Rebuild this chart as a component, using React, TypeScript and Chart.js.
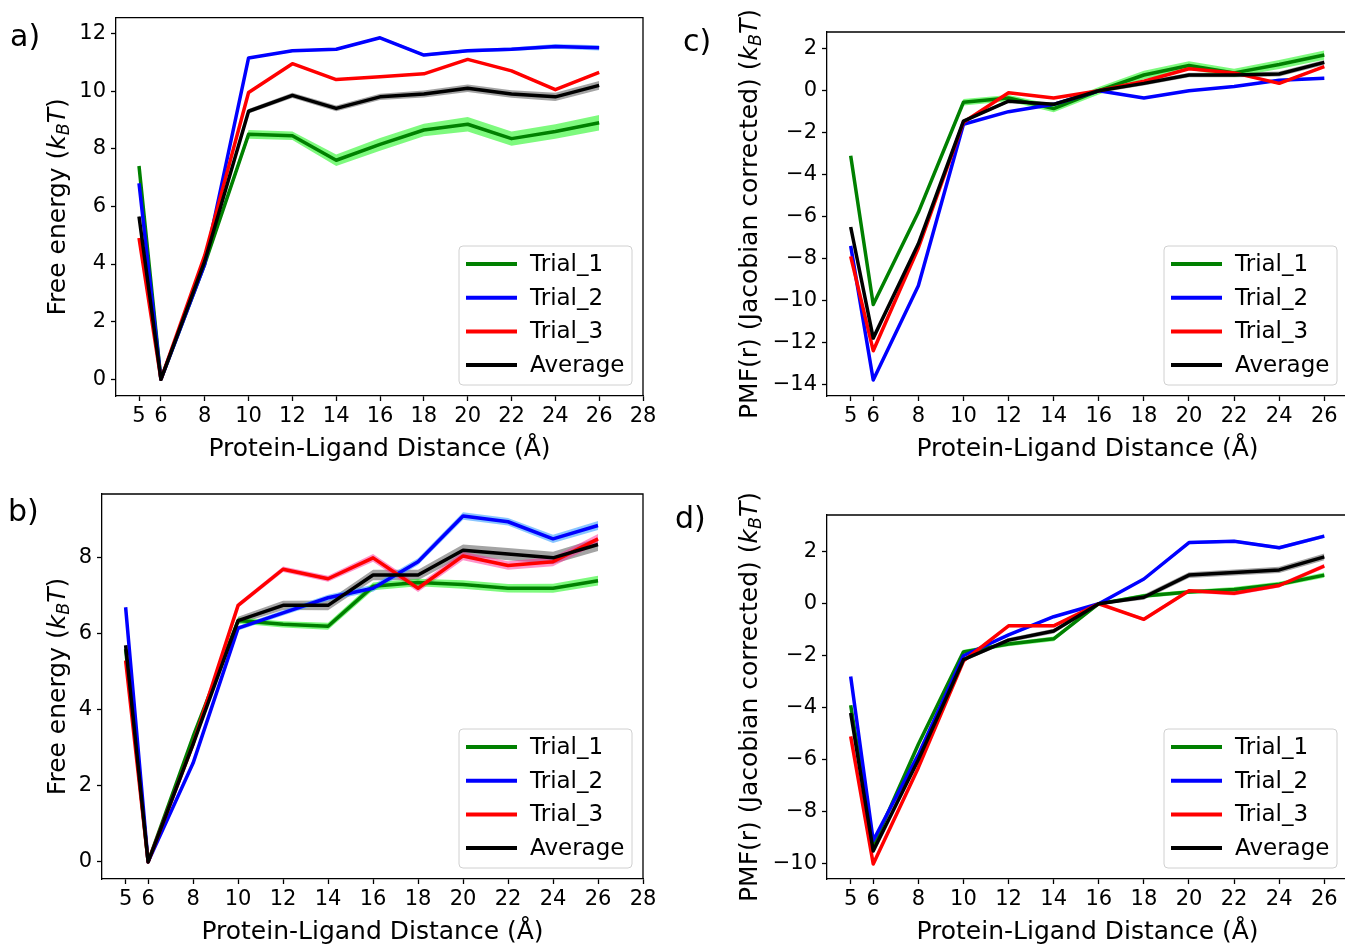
import React, { useEffect, useRef } from 'react';
import { Chart, registerables } from 'chart.js';
Chart.register(...registerables);

const FONT = '"DejaVu Sans"';
const X = [5, 6, 8, 10, 12, 14, 16, 18, 20, 22, 24, 26];
const X_TICKS_AB = [5, 6, 8, 10, 12, 14, 16, 18, 20, 22, 24, 26, 28];
const X_TICKS_CD = [5, 6, 8, 10, 12, 14, 16, 18, 20, 22, 24, 26];
const Y_TICKS_A = [0, 2, 4, 6, 8, 10, 12];
const Y_TICKS_B = [0, 2, 4, 6, 8];
const Y_TICKS_C = [-14, -12, -10, -8, -6, -4, -2, 0, 2];
const Y_TICKS_D = [-10, -8, -6, -4, -2, 0, 2];
const SERIES_NAMES = ['Trial_1', 'Trial_2', 'Trial_3', 'Average'];
const LINE_COLORS = ['#008000', '#0000ff', '#ff0000', '#000000'];
const BAND_COLORS = ['rgba(20,245,20,0.55)', 'rgba(60,160,255,0.6)', 'rgba(255,40,150,0.5)', 'rgba(90,90,90,0.55)'];

// Panel a
const A_T1 = [7.4, 0, 4.0, 8.5, 8.45, 7.6, 8.15, 8.65, 8.85, 8.35, 8.6, 8.9];
const A_T2 = [6.8, 0, 4.0, 11.15, 11.4, 11.45, 11.85, 11.25, 11.4, 11.45, 11.55, 11.5];
const A_T3 = [4.9, 0, 4.3, 9.95, 10.95, 10.4, 10.5, 10.6, 11.1, 10.7, 10.05, 10.65];
const A_AVG = [5.65, 0, 4.1, 9.3, 9.85, 9.4, 9.8, 9.9, 10.1, 9.9, 9.8, 10.2];
const A_T1_ERR = [0.05, 0.02, 0.1, 0.15, 0.15, 0.2, 0.22, 0.22, 0.25, 0.25, 0.25, 0.27];
const A_T2_ERR = [0.02, 0.01, 0.03, 0.03, 0.04, 0.04, 0.04, 0.05, 0.06, 0.06, 0.08, 0.09];
const A_T3_ERR = [0.02, 0.01, 0.02, 0.03, 0.03, 0.03, 0.03, 0.03, 0.04, 0.04, 0.04, 0.04];
const A_AVG_ERR = [0.04, 0.02, 0.06, 0.08, 0.09, 0.1, 0.11, 0.12, 0.13, 0.13, 0.14, 0.15];

// Panel b
const B_T1 = [5.6, 0, 3.3, 6.35, 6.25, 6.2, 7.25, 7.35, 7.3, 7.2, 7.2, 7.4];
const B_T2 = [6.7, 0, 2.6, 6.15, 6.55, 6.95, 7.2, 7.9, 9.1, 8.95, 8.5, 8.85];
const B_T3 = [5.3, 0, 3.1, 6.75, 7.7, 7.45, 8.0, 7.2, 8.05, 7.8, 7.9, 8.5];
const B_AVG = [5.7, 0, 3.1, 6.35, 6.75, 6.75, 7.55, 7.55, 8.2, 8.1, 8.0, 8.35];
const B_T1_ERR = [0.03, 0.01, 0.05, 0.08, 0.08, 0.09, 0.1, 0.1, 0.11, 0.11, 0.12, 0.13];
const B_T2_ERR = [0.03, 0.01, 0.04, 0.06, 0.07, 0.08, 0.09, 0.09, 0.1, 0.1, 0.11, 0.12];
const B_T3_ERR = [0.03, 0.01, 0.04, 0.06, 0.07, 0.08, 0.1, 0.1, 0.11, 0.11, 0.12, 0.13];
const B_AVG_ERR = [0.04, 0.02, 0.06, 0.1, 0.12, 0.13, 0.14, 0.14, 0.15, 0.16, 0.16, 0.17];

// Panel c
const C_T1 = [-3.1, -10.2, -5.8, -0.55, -0.35, -0.85, 0, 0.75, 1.2, 0.85, 1.25, 1.7];
const C_T2 = [-7.4, -13.8, -9.3, -1.6, -1.0, -0.65, 0, -0.35, 0, 0.2, 0.5, 0.6];
const C_T3 = [-7.9, -12.4, -7.5, -1.5, -0.1, -0.35, 0, 0.45, 1.05, 0.85, 0.35, 1.15];
const C_AVG = [-6.5, -11.8, -7.3, -1.45, -0.5, -0.65, 0, 0.35, 0.75, 0.75, 0.8, 1.35];
const C_T1_ERR = [0.05, 0.05, 0.1, 0.15, 0.15, 0.18, 0.18, 0.2, 0.2, 0.2, 0.22, 0.22];
const C_T2_ERR = [0.03, 0.03, 0.04, 0.04, 0.04, 0.04, 0.04, 0.05, 0.05, 0.05, 0.06, 0.06];
const C_T3_ERR = [0.03, 0.03, 0.04, 0.04, 0.04, 0.04, 0.04, 0.05, 0.05, 0.05, 0.06, 0.06];
const C_AVG_ERR = [0.05, 0.05, 0.06, 0.07, 0.08, 0.09, 0.1, 0.1, 0.11, 0.11, 0.12, 0.12];

// Panel d
const D_T1 = [-3.9, -9.3, -5.4, -1.85, -1.55, -1.35, 0, 0.3, 0.45, 0.55, 0.75, 1.1];
const D_T2 = [-2.8, -9.1, -5.8, -2.0, -1.2, -0.5, 0, 0.95, 2.35, 2.4, 2.15, 2.6];
const D_T3 = [-5.1, -10.0, -6.3, -2.2, -0.85, -0.85, 0, -0.6, 0.5, 0.4, 0.7, 1.45];
const D_AVG = [-4.2, -9.5, -6.0, -2.15, -1.4, -1.05, 0, 0.25, 1.1, 1.2, 1.3, 1.8];
const D_T1_ERR = [0.04, 0.04, 0.06, 0.08, 0.08, 0.09, 0.05, 0.08, 0.08, 0.09, 0.09, 0.1];
const D_T2_ERR = [0.03, 0.03, 0.04, 0.05, 0.05, 0.05, 0.03, 0.05, 0.06, 0.06, 0.07, 0.07];
const D_T3_ERR = [0.03, 0.03, 0.04, 0.05, 0.05, 0.06, 0.03, 0.07, 0.07, 0.08, 0.08, 0.09];
const D_AVG_ERR = [0.04, 0.04, 0.06, 0.07, 0.08, 0.09, 0.05, 0.1, 0.11, 0.12, 0.12, 0.13];

const FREE_TITLE = [
  { t: 'Free energy (', it: false, sub: false },
  { t: 'k', it: true, sub: false },
  { t: 'B', it: true, sub: true },
  { t: 'T', it: true, sub: false },
  { t: ')', it: false, sub: false },
];
const PMF_TITLE = [
  { t: 'PMF(r) (Jacobian corrected) (', it: false, sub: false },
  { t: 'k', it: true, sub: false },
  { t: 'B', it: true, sub: true },
  { t: 'T', it: true, sub: false },
  { t: ')', it: false, sub: false },
];
const X_TITLE = 'Protein-Ligand Distance (Å)';

const PANELS = [
  {
    key: 'a', label: 'a)', labelX: 10, labelY: 38,
    canvas: { left: 0, top: 0, w: 660, h: 470 },
    xMin: 3.95, xMax: 28, yMin: -0.58, yMax: 12.55,
    xTicks: X_TICKS_AB, yTicks: Y_TICKS_A,
    W: 116, padTop: 12, padRight: 17, H: 74, yTitleOffset: 58,
    yTitle: FREE_TITLE,
    series: [A_T1, A_T2, A_T3, A_AVG], errs: [A_T1_ERR, A_T2_ERR, A_T3_ERR, A_AVG_ERR],
  },
  {
    key: 'b', label: 'b)', labelX: 8, labelY: 43,
    canvas: { left: 0, top: 470, w: 660, h: 475 },
    xMin: 3.95, xMax: 28, yMin: -0.45, yMax: 9.68,
    xTicks: X_TICKS_AB, yTicks: Y_TICKS_B,
    W: 102, padTop: 24, padRight: 17, H: 66, yTitleOffset: 44,
    yTitle: FREE_TITLE,
    series: [B_T1, B_T2, B_T3, B_AVG], errs: [B_T1_ERR, B_T2_ERR, B_T3_ERR, B_AVG_ERR],
  },
  {
    key: 'c', label: 'c)', labelX: 23, labelY: 43,
    canvas: { left: 660, top: 0, w: 700, h: 470 },
    xMin: 3.95, xMax: 27.05, yMin: -14.56, yMax: 2.8,
    xTicks: X_TICKS_CD, yTicks: Y_TICKS_C,
    W: 167, padTop: 32, padRight: 12, H: 74, yTitleOffset: 77,
    yTitle: PMF_TITLE,
    series: [C_T1, C_T2, C_T3, C_AVG], errs: [C_T1_ERR, C_T2_ERR, C_T3_ERR, C_AVG_ERR],
  },
  {
    key: 'd', label: 'd)', labelX: 15, labelY: 50,
    canvas: { left: 660, top: 470, w: 700, h: 475 },
    xMin: 3.95, xMax: 27.05, yMin: -10.58, yMax: 3.41,
    xTicks: X_TICKS_CD, yTicks: Y_TICKS_D,
    W: 167, padTop: 45, padRight: 12, H: 66, yTitleOffset: 77,
    yTitle: PMF_TITLE,
    series: [D_T1, D_T2, D_T3, D_AVG], errs: [D_T1_ERR, D_T2_ERR, D_T3_ERR, D_AVG_ERR],
  },
];

const fmt = (v: number) => (v < 0 ? '\u2212' + Math.abs(v) : String(v));

const decorPlugin = {
  id: 'decor',
  afterDraw(chart: any) {
    const d = chart.options.plugins.decor;
    const ctx = chart.ctx;
    const ca = chart.chartArea;
    ctx.save();
    ctx.strokeStyle = '#000';
    ctx.lineWidth = 1.3;
    ctx.beginPath();
    ctx.moveTo(ca.left, ca.top);
    ctx.lineTo(ca.right, ca.top);
    ctx.lineTo(ca.right, ca.bottom);
    ctx.stroke();
    ctx.fillStyle = '#000';
    ctx.font = `30px ${FONT}`;
    ctx.textAlign = 'left';
    ctx.textBaseline = 'middle';
    ctx.fillText(d.label, d.labelX, d.labelY);
    ctx.font = `25px ${FONT}`;
    ctx.textAlign = 'center';
    ctx.fillText(d.xTitle, (ca.left + ca.right) / 2, ca.bottom + 53);
    ctx.save();
    ctx.translate(ca.left - d.yTitleOffset, (ca.top + ca.bottom) / 2);
    ctx.rotate(-Math.PI / 2);
    const size = 25;
    const fontOf = (p: any) => `${p.it ? 'italic ' : ''}${p.sub ? size * 0.7 : size}px ${FONT}`;
    let total = 0;
    const widths = d.yTitle.map((p: any) => {
      ctx.font = fontOf(p);
      const w = ctx.measureText(p.t).width;
      total += w;
      return w;
    });
    let x = -total / 2;
    ctx.textAlign = 'left';
    d.yTitle.forEach((p: any, i: number) => {
      ctx.font = fontOf(p);
      ctx.fillText(p.t, x, p.sub ? size * 0.25 : 0);
      x += widths[i];
    });
    ctx.restore();
    const bw = 173, bh = 139;
    const bx = ca.right - 11 - bw;
    const by = ca.bottom - 11 - bh;
    ctx.beginPath();
    if (ctx.roundRect) ctx.roundRect(bx, by, bw, bh, 4); else ctx.rect(bx, by, bw, bh);
    ctx.fillStyle = 'rgba(255,255,255,0.8)';
    ctx.fill();
    ctx.strokeStyle = '#d0d0d0';
    ctx.lineWidth = 1;
    ctx.stroke();
    ctx.font = `23px ${FONT}`;
    ctx.textAlign = 'left';
    ctx.textBaseline = 'middle';
    SERIES_NAMES.forEach((name, i) => {
      const yy = by + 18 + i * 33.7;
      ctx.strokeStyle = LINE_COLORS[i];
      ctx.lineWidth = 4;
      ctx.beginPath();
      ctx.moveTo(bx + 7, yy);
      ctx.lineTo(bx + 58, yy);
      ctx.stroke();
      ctx.fillStyle = '#000';
      ctx.fillText(name, bx + 71, yy + 1);
    });
    ctx.restore();
  },
};

function buildConfig(p: any) {
  const datasets: any[] = [];
  p.series.forEach((vals: number[], i: number) => {
    const err = p.errs[i];
    datasets.push({
      label: SERIES_NAMES[i] + ' lo',
      data: X.map((x, j) => ({ x, y: vals[j] - err[j] })),
      borderWidth: 0, pointRadius: 0, fill: false, order: 20 + i,
      borderColor: 'rgba(0,0,0,0)',
    });
    datasets.push({
      label: SERIES_NAMES[i] + ' hi',
      data: X.map((x, j) => ({ x, y: vals[j] + err[j] })),
      borderWidth: 0, pointRadius: 0, fill: '-1', order: 20 + i,
      borderColor: 'rgba(0,0,0,0)', backgroundColor: BAND_COLORS[i],
    });
  });
  p.series.forEach((vals: number[], i: number) => {
    datasets.push({
      label: SERIES_NAMES[i],
      data: X.map((x, j) => ({ x, y: vals[j] })),
      borderColor: LINE_COLORS[i], borderWidth: 3.5, pointRadius: 0, fill: false,
      borderJoinStyle: 'round', borderCapStyle: 'butt', tension: 0,
      order: 3 - i,
    });
  });
  const tickFont = { family: 'DejaVu Sans', size: 21 };
  const grid = { drawOnChartArea: false, drawTicks: true, tickLength: 5, tickWidth: 1.3, tickColor: '#000', color: '#000' };
  const border = { display: true, color: '#000', width: 1.3 };
  return {
    type: 'line',
    data: { datasets },
    plugins: [decorPlugin],
    options: {
      responsive: false, animation: false, devicePixelRatio: 1, events: [],
      layout: { padding: { left: 0, top: p.padTop, right: p.padRight, bottom: 0 } },
      plugins: {
        legend: { display: false }, tooltip: { enabled: false },
        decor: { label: p.label, labelX: p.labelX, labelY: p.labelY, xTitle: X_TITLE, yTitle: p.yTitle, yTitleOffset: p.yTitleOffset },
      },
      scales: {
        x: {
          type: 'linear', min: p.xMin, max: p.xMax,
          afterBuildTicks: (s: any) => { s.ticks = p.xTicks.map((v: number) => ({ value: v })); },
          afterFit: (s: any) => { s.height = p.H; },
          ticks: { autoSkip: false, maxRotation: 0, minRotation: 0, font: tickFont, color: '#000', padding: 3, callback: (v: number) => fmt(v) },
          grid, border,
        },
        y: {
          type: 'linear', min: p.yMin, max: p.yMax,
          afterBuildTicks: (s: any) => { s.ticks = p.yTicks.map((v: number) => ({ value: v })); },
          afterFit: (s: any) => { s.width = p.W; },
          ticks: { autoSkip: false, font: tickFont, color: '#000', padding: 5, callback: (v: number) => fmt(v) },
          grid, border,
        },
      },
    },
  };
}

function Panel({ p }: { p: any }) {
  const ref = useRef<HTMLCanvasElement | null>(null);
  useEffect(() => {
    if (!ref.current) return;
    const chart = new Chart(ref.current, buildConfig(p) as any);
    return () => chart.destroy();
  }, [p]);
  return (
    <canvas
      ref={ref}
      width={p.canvas.w}
      height={p.canvas.h}
      style={{ position: 'absolute', left: p.canvas.left, top: p.canvas.top, width: p.canvas.w, height: p.canvas.h }}
    />
  );
}

export default function App() {
  return (
    <div style={{ position: 'fixed', left: 0, top: 0, width: 1345, height: 945, overflow: 'hidden', background: '#fff' }}>
      {PANELS.map((p) => <Panel key={p.key} p={p} />)}
    </div>
  );
}
